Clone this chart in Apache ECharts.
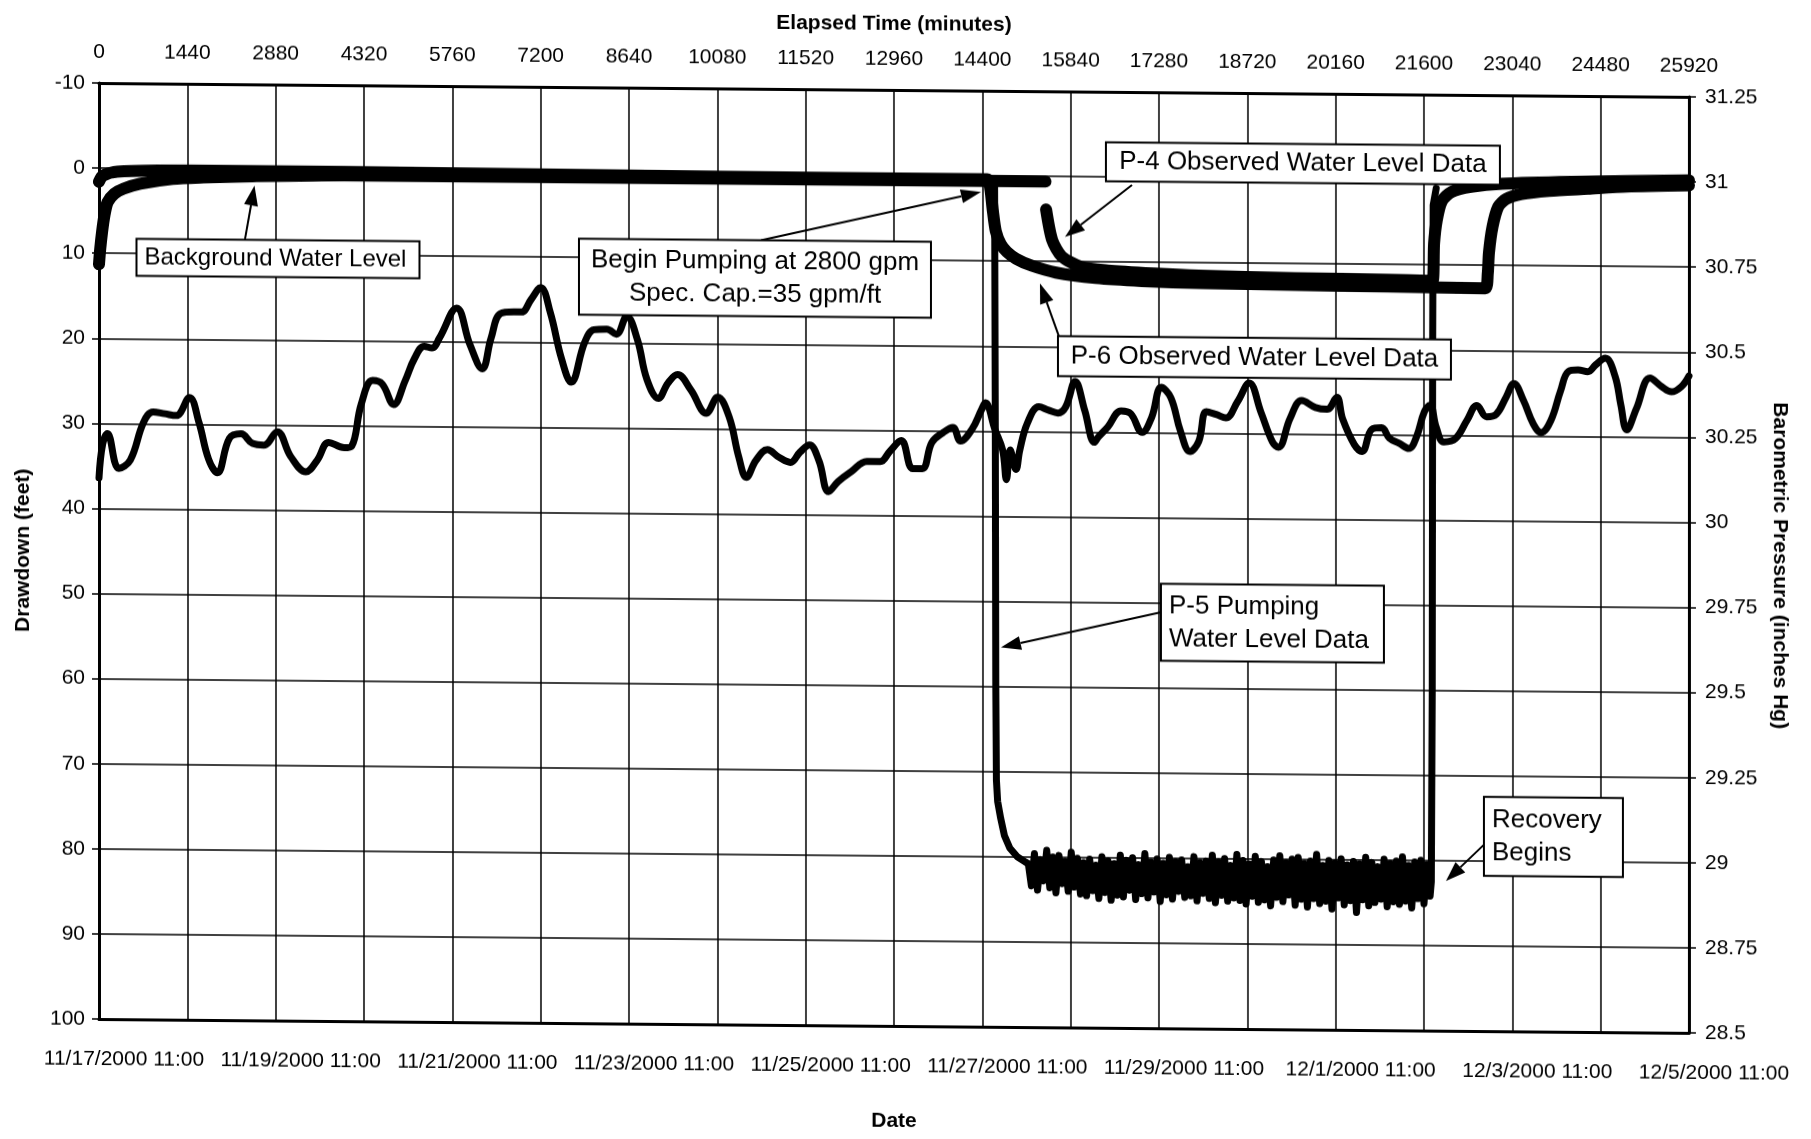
<!DOCTYPE html>
<html>
<head>
<meta charset="utf-8">
<script src="https://cdn.jsdelivr.net/npm/echarts/dist/echarts.min.js"></script>
<style>
html,body{margin:0;padding:0;background:#fff;}
#chart{width:1811px;height:1139px;transform-origin:99px 0;transform:skewY(0.5deg);}
</style>
</head>
<body>
<div id="chart"></div>
<script>
// ---------------- DATA ----------------
// bottom axis tick labels (one every 2880 minutes)
const dateLabels = ['11/17/2000 11:00','11/19/2000 11:00','11/21/2000 11:00','11/23/2000 11:00','11/25/2000 11:00',
  '11/27/2000 11:00','11/29/2000 11:00','12/1/2000 11:00','12/3/2000 11:00','12/5/2000 11:00'];

// Barometric pressure: [elapsed minutes, inches Hg]
const baroPressure = [[0,30.09],[60,30.19],[137,30.22],[324,30.118],[510,30.143],[728,30.255],[884,30.285],[1070,30.28],
 [1257,30.275],[1475,30.328],[1630,30.255],[1786,30.148],[1929,30.108],[2128,30.21],[2315,30.223],[2502,30.195],[2688,30.19],
 [2906,30.23],[3124,30.158],[3373,30.113],[3560,30.148],[3746,30.2],[3995,30.185],[4120,30.19],[4275,30.313],[4462,30.383],
 [4617,30.373],[4804,30.313],[4991,30.383],[5147,30.45],[5302,30.485],[5427,30.48],[5551,30.51],[5831,30.598],[6049,30.49],
 [6248,30.42],[6391,30.51],[6547,30.583],[6765,30.588],[6889,30.588],[7044,30.625],[7200,30.66],[7356,30.588],[7543,30.45],
 [7698,30.383],[7916,30.5],[8071,30.538],[8278,30.54],[8434,30.525],[8603,30.578],[8777,30.51],[8933,30.393],[9120,30.338],
 [9276,30.383],[9432,30.408],[9650,30.363],[9899,30.295],[10086,30.343],[10273,30.285],[10429,30.168],[10554,30.108],
 [10710,30.158],[10897,30.19],[11084,30.168],[11271,30.153],[11427,30.183],[11583,30.205],[11738,30.158],[11894,30.068],
 [12050,30.098],[12268,30.128],[12518,30.158],[12736,30.158],[12892,30.188],[13079,30.22],[13266,30.138],[13421,30.138],
 [13577,30.215],[13764,30.245],[13920,30.26],[14045,30.22],[14232,30.255],[14388,30.313],[14450,30.333],[14606,30.255],
 [14731,30.195],[14793,30.108],[14855,30.195],[14949,30.138],[15011,30.195],[15136,30.275],[15323,30.323],[15479,30.313],
 [15634,30.305],[15759,30.323],[15914,30.398],[16070,30.313],[16226,30.22],[16289,30.235],[16445,30.265],[16663,30.313],
 [16819,30.305],[17006,30.25],[17162,30.295],[17318,30.383],[17474,30.353],[17630,30.255],[17786,30.195],[17928,30.225],
 [18054,30.313],[18212,30.305],[18371,30.295],[18561,30.343],[18752,30.398],[18942,30.313],[19132,30.225],[19228,30.21],
 [19418,30.295],[19608,30.348],[19830,30.328],[20021,30.323],[20179,30.358],[20274,30.295],[20465,30.22],[20591,30.2],
 [20750,30.265],[20909,30.27],[21036,30.24],[21194,30.225],[21353,30.21],[21480,30.245],[21607,30.318],[21702,30.338],
 [21797,30.275],[21924,30.23],[22114,30.24],[22304,30.295],[22463,30.338],[22622,30.305],[22780,30.313],[22939,30.363],
 [23066,30.403],[23224,30.353],[23383,30.285],[23510,30.26],[23668,30.295],[23827,30.383],[23954,30.44],[24112,30.445],
 [24271,30.44],[24398,30.46],[24557,30.48],[24715,30.428],[24810,30.343],[24906,30.27],[25064,30.333],[25286,30.423],
 [25476,30.398],[25635,30.383],[25794,30.398],[25920,30.43]];

// P-4 observed water level (drawdown, ft); null = data gap
const p4Level = [[0,11.3],[20,9.5],[50,7.5],[90,5.5],[140,4.0],[250,3.0],[400,2.4],[670,1.8],[1200,1.2],[1700,1.0],
 [2500,0.8],[4000,0.6],[8000,0.6],[12000,0.6],[15430,0.6],[15435,null],
 [15440,3.9],[15540,7.5],[15696,9.4],[16008,10.6],[16445,11.0],[17193,11.3],[17928,11.5],[19500,11.7],[21000,11.8],
 [21740,11.9],[21765,7.5],[21810,4.7],[21892,2.5],[22051,1.4],[22368,0.8],[22875,0.4],[24000,0.1],[25920,-0.2]];

// P-6 observed water level (drawdown, ft)
const p6Level = [[0,1.6],[60,0.9],[300,0.4],[1500,0.2],[4000,0.2],[8000,0.3],[12000,0.4],[14480,0.4],[14530,1.5],
 [14570,4.0],[14620,6.5],[14700,8.0],[14800,8.9],[14950,9.7],[15200,10.5],[15600,11.3],[16250,11.9],[17000,12.2],
 [18000,12.4],[19500,12.5],[21000,12.6],[22600,12.7],[22640,11.0],[22660,8.5],[22717,5.5],[22812,3.1],[22939,2.2],
 [23193,1.6],[23637,1.2],[24271,0.9],[24906,0.6],[25920,0.4]];

// P-5 pumping water level (drawdown, ft)
const p5Drop = [[14600,0.5],[14612,30],[14620,60],[14630,71],[14650,73.5],[14700,75.5],[14760,77.5],[14850,79.0],[14970,80.0],[15100,80.6]];
const p5NoisyStart = 15150, p5NoisyStep = 50;   // logger readings every 50 minutes
const p5Noisy = [80.8,83.4,79.6,83.9,80.3,82.8,79.2,83.6,80.0,84.2,79.8,83.1,80.5,84.0,79.4,83.5,80.1,84.3,
 80.6,84.5,80.2,83.9,80.9,84.8,79.9,84.1,80.4,85.0,80.7,84.4,79.7,84.6,80.3,83.8,80.0,84.9,80.8,84.2,79.5,84.7,
 80.5,84.0,80.1,85.1,80.6,84.3,79.9,84.8,80.4,83.9,80.2,84.6,81.0,84.4,79.8,85.0,80.5,84.1,
 80.3,84.7,79.6,85.2,80.4,84.3,80.0,85.0,80.8,84.6,79.5,84.9,80.2,85.3,80.6,84.4,79.7,85.1,80.3,84.8,
 80.9,85.5,80.1,84.5,79.6,85.0,80.4,84.2,80.0,85.4,79.8,84.7,80.5,85.6,80.2,84.6,79.4,85.2,80.7,84.9,
 80.1,85.8,80.4,84.5,79.9,85.3,80.6,84.8,80.2,86.2,80.5,84.7,79.7,85.4,80.3,85.0,80.8,84.6,79.9,85.5,
 80.4,84.9,80.1,85.2,79.6,84.8,80.6,85.6,80.2,84.5,80.0,85.1,80.5,84.2];
const p5Rise = [[21720,82.5],[21735,60],[21742,20],[21750,3],[21800,1.0]];

// ---------------- ANNOTATIONS (data coordinates: minutes, ft) ----------------
const notes = [
  {lines:['Background Water Level'], center:[2918,10.46], w:283, h:37, align:'left', size:24, from:[2380,8.2], to:[2535,1.9]},
  {lines:['Begin Pumping at 2800 gpm','Spec. Cap.=35 gpm/ft'], center:[10694,12.26], w:352, h:76, align:'center', size:26, from:[10792,7.8], to:[14378,1.9]},
  {lines:['P-4 Observed Water Level Data'], center:[19627,-1.78], w:394, h:39, align:'center', size:26, from:[16840,0.93], to:[15748,7.1]},
  {lines:['P-6 Observed Water Level Data'], center:[18837,21.1], w:393, h:40, align:'center', size:26, from:[15650,18.8], to:[15340,12.6]},
  {lines:['P-5 Pumping','Water Level Data'], center:[19130,52.3], w:223, h:77, align:'left', size:26, from:[17313,51.1], to:[14704,55.4]},
  {lines:['Recovery','Begins'], center:[23711,77.1], w:139, h:79, align:'left', size:26, from:[22578,78.1], to:[21959,82.4]}
];

// ---------------- CHART ----------------
const FONT = "'Liberation Sans', Arial, Helvetica, sans-serif";
const p5Level = p5Drop.concat(p5Noisy.map((v, i) => [p5NoisyStart + i * p5NoisyStep, v]), p5Rise);

const chart = echarts.init(document.getElementById('chart'), null, {renderer: 'canvas'});

const labelStyle = {fontFamily: FONT, fontSize: 21, color: '#000'};
const nameStyle = {fontFamily: FONT, fontSize: 21, fontWeight: 'bold', color: '#000'};
const axisLineStyle = {show: true, onZero: false, lineStyle: {color: '#000', width: 3}};
const gridLine = {show: true, lineStyle: {color: '#000', width: 1.5, type: 'solid'}};
const waterStyle = {color: '#000', width: 12, cap: 'round', join: 'round'};

chart.setOption({
  animation: false,
  backgroundColor: '#fff',
  grid: {left: 99, right: 122, top: 83, bottom: 120, containLabel: false, outerBoundsMode: 'none'},
  xAxis: [
    {type: 'value', position: 'bottom', min: 0, max: 25920, interval: 2880,
     name: 'Date', nameLocation: 'middle', nameGap: 85, nameTextStyle: nameStyle, nameMoveOverlap: false,
     axisLine: axisLineStyle, axisTick: {show: false}, splitLine: {show: false},
     axisLabel: Object.assign({margin: 30, showMinLabel: true, showMaxLabel: true, hideOverlap: false,
       padding: [0, 0, 0, 50],
       formatter: v => dateLabels[Math.round(v / 2880)] || ''}, labelStyle)},
    {type: 'value', position: 'top', min: 0, max: 25920, interval: 1440,
     name: 'Elapsed Time (minutes)', nameLocation: 'middle', nameGap: 55, nameTextStyle: nameStyle, nameMoveOverlap: false,
     axisLine: axisLineStyle, axisTick: {show: false}, splitLine: gridLine,
     axisLabel: Object.assign({margin: 20, showMinLabel: true, showMaxLabel: true, hideOverlap: false,
       formatter: v => String(v)}, labelStyle)}
  ],
  yAxis: [
    {type: 'value', position: 'left', inverse: true, min: -10, max: 100, interval: 10,
     name: 'Drawdown (feet)', nameLocation: 'middle', nameGap: 65, nameRotate: 90, nameTextStyle: nameStyle, nameMoveOverlap: false,
     axisLine: axisLineStyle, axisTick: {show: true, inside: false, length: 7, lineStyle: {color: '#000', width: 1.5}},
     splitLine: gridLine,
     axisLabel: Object.assign({margin: 14, showMinLabel: true, showMaxLabel: true, formatter: v => String(v)}, labelStyle)},
    {type: 'value', position: 'right', min: 28.5, max: 31.25, interval: 0.25,
     name: 'Barometric Pressure (inches Hg)', nameLocation: 'middle', nameGap: 80, nameRotate: -90, nameTextStyle: nameStyle, nameMoveOverlap: false,
     axisLine: axisLineStyle, axisTick: {show: true, inside: false, length: 7, lineStyle: {color: '#000', width: 1.5}},
     splitLine: {show: false},
     axisLabel: Object.assign({margin: 16, showMinLabel: true, showMaxLabel: true, formatter: v => String(v)}, labelStyle)}
  ],
  series: [
    {name: 'Barometric Pressure', type: 'line', xAxisIndex: 0, yAxisIndex: 1, data: baroPressure,
     symbol: 'none', smooth: 0.4, lineStyle: {color: '#000', width: 7, cap: 'round', join: 'round'}, z: 3, silent: true},
    {name: 'P-6 Observed Water Level', type: 'line', xAxisIndex: 0, yAxisIndex: 0, data: p6Level,
     symbol: 'none', smooth: 0.25, clip: false, lineStyle: waterStyle, z: 4, silent: true},
    {name: 'P-4 Observed Water Level', type: 'line', xAxisIndex: 0, yAxisIndex: 0, data: p4Level,
     symbol: 'none', smooth: 0.25, connectNulls: false, clip: false, lineStyle: waterStyle, z: 4, silent: true},
    {name: 'P-5 Pumping Water Level', type: 'line', xAxisIndex: 0, yAxisIndex: 0, data: p5Level,
     symbol: 'none', smooth: false, lineStyle: {color: '#000', width: 7, cap: 'round', join: 'round'}, z: 5, silent: true}
  ]
});

// ---------- annotation boxes and arrows, placed through the axes ----------
function px(pt) { return chart.convertToPixel({xAxisIndex: 0, yAxisIndex: 0}, pt); }
const elements = [];
notes.forEach(n => {
  const c = px(n.center);
  const tail = px(n.from), tip = px(n.to);
  const dx = tip[0] - tail[0], dy = tip[1] - tail[1];
  const len = Math.sqrt(dx * dx + dy * dy), ux = dx / len, uy = dy / len;
  const headL = 20, headW = 7;
  const bx = tip[0] - ux * headL, by = tip[1] - uy * headL;
  elements.push({type: 'line', z: 100, shape: {x1: tail[0], y1: tail[1], x2: bx, y2: by},
    style: {stroke: '#000', lineWidth: 2}});
  elements.push({type: 'polygon', z: 100, shape: {points: [[tip[0], tip[1]], [bx - uy * headW, by + ux * headW], [bx + uy * headW, by - ux * headW]]},
    style: {fill: '#000'}});
  elements.push({type: 'rect', z: 101, shape: {x: c[0] - n.w / 2, y: c[1] - n.h / 2, width: n.w, height: n.h},
    style: {fill: '#fff', stroke: '#000', lineWidth: 2}});
  const lh = n.size * 1.27;
  n.lines.forEach((t, i) => {
    const ty = c[1] + (i - (n.lines.length - 1) / 2) * lh;
    const tx = n.align === 'left' ? c[0] - n.w / 2 + 8 : c[0];
    elements.push({type: 'text', z: 102, x: tx, y: ty,
      style: {text: t, font: n.size + 'px ' + FONT, fill: '#000',
        align: n.align, verticalAlign: 'middle', textAlign: n.align, textVerticalAlign: 'middle'}});
  });
});
chart.setOption({graphic: {elements: elements}});
</script>
</body>
</html>
